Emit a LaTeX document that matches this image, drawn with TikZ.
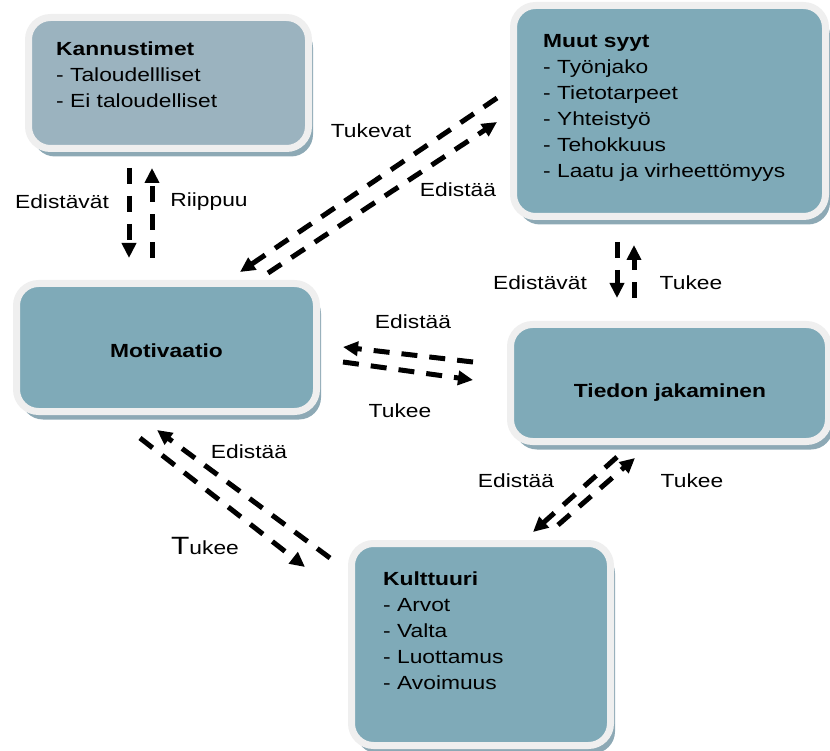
\documentclass[tikz,border=0pt]{standalone}
\usepackage{fontspec}
\setmainfont{Liberation Sans}[FakeStretch=1.2]
\usetikzlibrary{arrows.meta,shadows}

\definecolor{panelfill}{HTML}{7FAAB8}
\definecolor{panelgray}{HTML}{9BB3BF}
\definecolor{panelframe}{HTML}{EFEFEF}
\definecolor{panelshade}{HTML}{8DA9B5}

\begin{document}
\begin{tikzpicture}[x=1pt,y=-1pt,
  panel/.style={draw=panelframe, line width=7pt, fill=panelfill,
    rounded corners=22pt, inner sep=0pt,
    general shadow={shadow xshift=4.5pt, shadow yshift=-8pt, fill=panelshade}},
  txt/.style={font=\fontsize{19}{26}\selectfont, align=left, inner sep=0pt},
  lbl/.style={font=\fontsize{19}{26}\selectfont, inner sep=0pt, anchor=base},
  link/.style={line width=5pt, dash pattern=on 16pt off 12pt,
    -{Triangle[length=15pt,width=14pt]}}
]
\useasboundingbox (0,0) rectangle (830,751);

% panels
\node[panel, fill=panelgray, minimum width=280pt, minimum height=131pt] (kan) at (168.5,83) {};
\node[panel, minimum width=312pt, minimum height=211pt] (muut) at (669.5,111) {};
\node[panel, minimum width=300pt, minimum height=128pt] (mot) at (166.5,347.5) {};
\node[panel, minimum width=318pt, minimum height=117pt] (tied) at (669.5,383) {};
\node[panel, minimum width=259pt, minimum height=202pt] (kult) at (481,644.5) {};

% panel texts
\node[txt, anchor=north west] (kant) at (56,41.4)
  {\textbf{Kannustimet}\\- Taloudellliset\\- Ei taloudelliset};
\node[txt, anchor=north west] (muutt) at (543,34.4)
  {\textbf{Muut syyt}\\- Työnjako\\- Tietotarpeet\\- Yhteistyö\\- Tehokkuus\\- Laatu ja virheettömyys};
\node[lbl, font=\fontsize{19}{26}\selectfont\bfseries] (mott) at (166.5,357) {Motivaatio};
\node[lbl, font=\fontsize{19}{26}\selectfont\bfseries] (tiedt) at (670,397) {Tiedon jakaminen};
\node[txt, anchor=north west] (kultt) at (383,571.4)
  {\textbf{Kulttuuri}\\- Arvot\\- Valta\\- Luottamus\\- Avoimuus};

% connector end points
\coordinate (a1s) at (129,168);  \coordinate (a1e) at (129,258);
\coordinate (a2s) at (152,258);  \coordinate (a2e) at (152,168);
\coordinate (a3s) at (497,98);   \coordinate (a3e) at (240,272);
\coordinate (a4s) at (268,273);  \coordinate (a4e) at (497,122);
\coordinate (a5s) at (473,362);  \coordinate (a5e) at (343,347);
\coordinate (a6s) at (343,362);  \coordinate (a6e) at (473,380);
\coordinate (a7s) at (330,558);  \coordinate (a7e) at (157,430);
\coordinate (a8s) at (140,438);  \coordinate (a8e) at (305,567);
\coordinate (a9s) at (617,242);  \coordinate (a9e) at (617,298);
\coordinate (a10s) at (634,298); \coordinate (a10e) at (634,245);
\coordinate (a11s) at (617,457); \coordinate (a11e) at (533,532);
\coordinate (a12s) at (558,525); \coordinate (a12e) at (635,458);

% dashed links
\foreach \i in {1,...,12} \draw[link] (a\i s) -- (a\i e);

% link labels
\node[lbl] (l1) at (62,209) {Edistävät};
\node[lbl] (l2) at (209,207) {Riippuu};
\node[lbl] (l3) at (371,138) {Tukevat};
\node[lbl] (l4) at (458,197) {Edistää};
\node[lbl] (l5) at (413,328) {Edistää};
\node[lbl] (l6) at (400,417) {Tukee};
\node[lbl] (l7) at (249,458) {Edistää};
\node[lbl] (l8) at (205,554) {{\fontsize{25}{26}\selectfont T}ukee};
\node[lbl] (l9) at (540,290) {Edistävät};
\node[lbl] (l10) at (691,290) {Tukee};
\node[lbl] (l11) at (516,487) {Edistää};
\node[lbl] (l12) at (692,487) {Tukee};
\end{tikzpicture}
\end{document}
